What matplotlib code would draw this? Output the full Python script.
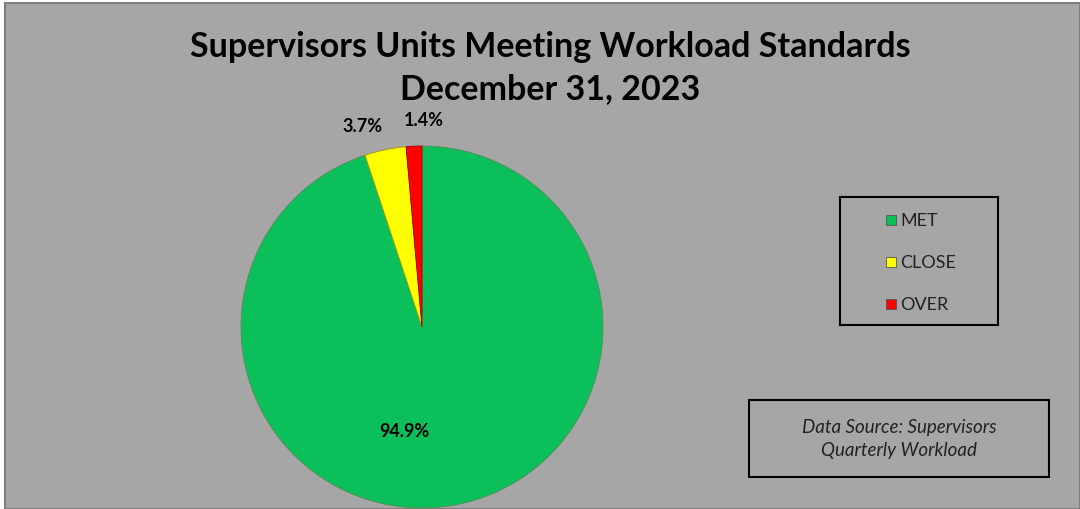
import matplotlib.pyplot as plt
from matplotlib.patches import Rectangle

categories = ["MET", "CLOSE", "OVER"]
percents = [94.9, 3.7, 1.4]
colors = ["#0bbf5b", "#ffff00", "#ff0000"]
title = "Supervisors Units Meeting Workload Standards\nDecember 31, 2023"
source = "Data Source: Supervisors\nQuarterly Workload"

plt.rcParams['font.family'] = ['Lato', 'DejaVu Sans']

W, H = 1080, 510
fig = plt.figure(figsize=(W / 100, H / 100), dpi=100)
fig.patch.set_facecolor("white")

# grey chart area
fig.patches.append(Rectangle((5 / W, 0), 1 - 5 / W, (H - 4) / H, transform=fig.transFigure,
                             facecolor="#a6a6a6", edgecolor="#7f7f7f", lw=1.5, zorder=-10))

fig.text(550 / W, (H - 68) / H, title, ha="center", va="center", fontsize=24.5,
         fontweight="bold", linespacing=1.4, color="black")

# pie axes: center (422, 328), radius 181 px
cx, cy, r = 422, H - 328, 181
ax = fig.add_axes([(cx - r) / W, (cy - r) / H, 2 * r / W, 2 * r / H])
wedges, _ = ax.pie(percents, colors=colors, startangle=90, counterclock=False, radius=1,
                   wedgeprops=dict(edgecolor="#5a8a5a", linewidth=0.6))
ax.set_xlim(-1, 1)
ax.set_ylim(-1, 1)
ax.set_aspect("equal")
ax.axis("off")
wedges[1].set_edgecolor("#9a9a00")
wedges[2].set_edgecolor("#a00000")
for w in wedges:
    w.set_clip_on(False)

label_pos = [(-0.10, -0.57), (-0.33, 1.116), (0.01, 1.149)]
for p, (x, y) in zip(percents, label_pos):
    ax.text(x, y, f"{p:.1f}%", ha="center", va="center", fontsize=13,
            fontweight="bold", color="black", clip_on=False)

# legend
leg_ax = fig.add_axes([840 / W, (H - 326) / H, 158 / W, 128 / H])
leg_ax.set_xlim(0, 158)
leg_ax.set_ylim(128, 0)
leg_ax.set_facecolor("none")
for s in leg_ax.spines.values():
    s.set_linewidth(1.5)
    s.set_color("black")
leg_ax.set_xticks([])
leg_ax.set_yticks([])
for i, (cat, col) in enumerate(zip(categories, colors)):
    yy = 23 + i * 42
    leg_ax.add_patch(Rectangle((46, yy - 5), 10, 10, facecolor=col, edgecolor="#555555", lw=0.6))
    leg_ax.text(60, yy, cat, ha="left", va="center", fontsize=13, color="#222222")

# data source box
fig.patches.append(Rectangle((749 / W, (H - 478) / H), 300 / W, 77 / H, transform=fig.transFigure,
                             facecolor="none", edgecolor="black", lw=1.5))
fig.text(899 / W, (H - 439) / H, source, ha="center", va="center", fontsize=13.5,
         fontstyle="italic", color="#222222", linespacing=1.45)

fig.savefig("out.png", dpi=100)
